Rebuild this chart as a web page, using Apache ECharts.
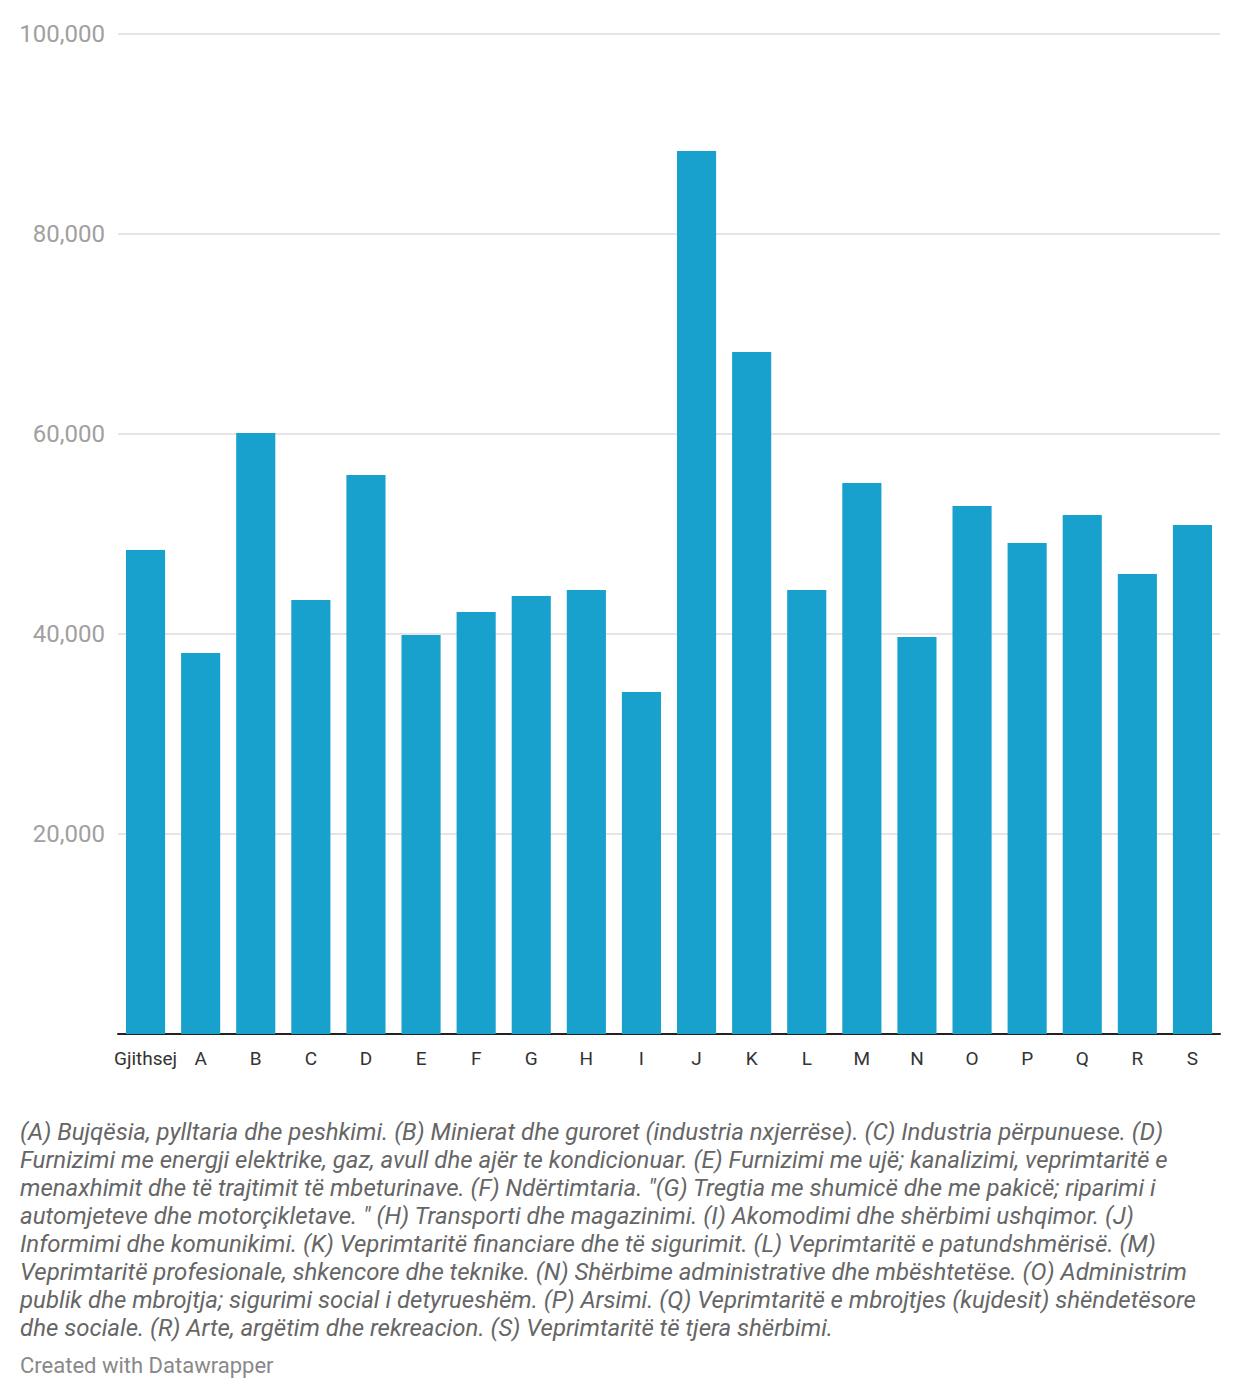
<!DOCTYPE html>
<html>
<head>
<meta charset="utf-8">
<script src="https://cdn.jsdelivr.net/npm/echarts@6/dist/echarts.min.js"></script>
<style>
  html, body { margin: 0; padding: 0; background: #fff; }
  #main { width: 1240px; height: 1398px; }
</style>
</head>
<body>
<div id="main"></div>
<script>
var categories = ['Gjithsej', 'A', 'B', 'C', 'D', 'E', 'F', 'G', 'H', 'I',
                  'J', 'K', 'L', 'M', 'N', 'O', 'P', 'Q', 'R', 'S'];
var values = [48400, 38100, 60100, 43400, 55900, 39900, 42200, 43800, 44400, 34200,
              88300, 68200, 44400, 55100, 39700, 52800, 49100, 51900, 46000, 50900];
var yTicks = [0, 20000, 40000, 60000, 80000, 100000];

var noteLines = [
    '(A) Bujqësia, pylltaria dhe peshkimi. (B) Minierat dhe guroret (industria nxjerrëse). (C) Industria përpunuese. (D)',
    'Furnizimi me energji elektrike, gaz, avull dhe ajër te kondicionuar. (E) Furnizimi me ujë; kanalizimi, veprimtaritë e',
    'menaxhimit dhe të trajtimit të mbeturinave. (F) Ndërtimtaria. "(G) Tregtia me shumicë dhe me pakicë; riparimi i',
    'automjeteve dhe motorçikletave. " (H) Transporti dhe magazinimi. (I) Akomodimi dhe shërbimi ushqimor. (J)',
    'Informimi dhe komunikimi. (K) Veprimtaritë financiare dhe të sigurimit. (L) Veprimtaritë e patundshmërisë. (M)',
    'Veprimtaritë profesionale, shkencore dhe teknike. (N) Shërbime administrative dhe mbështetëse. (O) Administrim',
    'publik dhe mbrojtja; sigurimi social i detyrueshëm. (P) Arsimi. (Q) Veprimtaritë e mbrojtjes (kujdesit) shëndetësore',
    'dhe sociale. (R) Arte, argëtim dhe rekreacion. (S) Veprimtaritë të tjera shërbimi.'
];

var chart = echarts.init(document.getElementById('main'), null, { renderer: 'svg' });

chart.setOption({
    animation: false,
    grid: { left: 118, right: 20, top: 34, bottom: 364, containLabel: false },
    xAxis: {
        type: 'category',
        data: categories,
        axisLine: { lineStyle: { color: '#222', width: 2 } },
        axisTick: { show: false },
        axisLabel: {
            interval: 0,
            margin: 15,
            color: '#333',
            fontSize: 19,
            fontFamily: 'Roboto'
        }
    },
    yAxis: {
        type: 'value',
        min: yTicks[0],
        max: yTicks[yTicks.length - 1],
        interval: yTicks[1] - yTicks[0],
        axisLine: { show: false },
        axisTick: { show: false },
        splitLine: { lineStyle: { color: '#e5e5e5', width: 2 } },
        axisLabel: {
            margin: 13,
            color: '#a0a0a0',
            fontSize: 24,
            fontFamily: 'Roboto',
            formatter: function (v) {
                return v === 0 ? '' : v.toLocaleString('en-US');
            }
        }
    },
    series: [{
        type: 'bar',
        data: values,
        barWidth: '71%',
        itemStyle: { color: '#18a1cd' }
    }],
    graphic: [
        {
            type: 'text',
            left: 20,
            top: 1118,
            style: {
                text: noteLines.join('\n'),
                fontFamily: 'Roboto',
                fontStyle: 'italic',
                fontSize: 24,
                lineHeight: 28,
                fill: '#666'
            }
        },
        {
            type: 'text',
            left: 20,
            top: 1351,
            style: {
                text: 'Created with Datawrapper',
                fontFamily: 'Roboto',
                fontSize: 22,
                lineHeight: 28,
                fill: '#888'
            }
        }
    ]
});
</script>
</body>
</html>
